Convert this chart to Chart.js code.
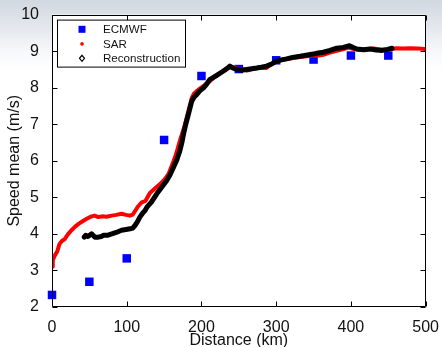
<!DOCTYPE html>
<html>
<head>
<meta charset="utf-8">
<script src="https://cdn.jsdelivr.net/npm/chart.js@4/dist/chart.umd.min.js"></script>
<style>
  html, body { margin: 0; padding: 0; }
  body { width: 442px; height: 347px; overflow: hidden;
         background: linear-gradient(#d2d8e1 0px, #e4e8ee 28px, #f7f8fa 52px, #ffffff 70px); }
  canvas { display: block; }
</style>
</head>
<body>
<canvas id="c" width="442" height="347"></canvas>
<script>
// ---- data ----
const xTicks = [0, 100, 200, 300, 400, 500];
const yTicks = [2, 3, 4, 5, 6, 7, 8, 9, 10];
const seriesNames = ['ECMWF', 'SAR', 'Reconstruction'];

const ecmwfX = [0, 50, 100, 150, 200, 250, 300, 350, 400, 450];
const ecmwfY = [2.33, 2.69, 3.33, 6.57, 8.32, 8.51, 8.75, 8.77, 8.88, 8.88];

const sarX = [0, 1, 4, 7, 10, 13, 17, 21, 26, 31, 36, 42, 47, 53, 57, 62, 67, 73, 80, 86, 93, 99, 104, 108, 111, 115, 120, 125, 131, 138, 145, 151, 156, 160, 164.5, 168, 171, 175, 178, 182.5, 187, 190, 193.5, 198, 202.5, 207, 211.5, 216, 222, 228, 233, 236, 241, 245, 250, 256, 261, 267, 273, 278, 283, 287, 292, 300, 307, 315, 323, 332, 341, 350, 357, 363, 372, 381, 389, 396.5, 404, 412, 420, 430, 438, 447, 455, 461, 470, 479, 490, 499];
const sarY = [3.10, 3.28, 3.42, 3.52, 3.72, 3.80, 3.86, 3.98, 4.10, 4.20, 4.28, 4.36, 4.42, 4.48, 4.50, 4.46, 4.48, 4.47, 4.50, 4.52, 4.55, 4.52, 4.50, 4.53, 4.62, 4.75, 4.86, 4.90, 5.12, 5.25, 5.37, 5.50, 5.64, 5.85, 6.09, 6.32, 6.54, 6.80, 7.00, 7.36, 7.72, 7.84, 7.90, 7.98, 8.04, 8.12, 8.18, 8.27, 8.36, 8.45, 8.52, 8.56, 8.55, 8.56, 8.50, 8.50, 8.47, 8.50, 8.53, 8.56, 8.54, 8.54, 8.62, 8.72, 8.76, 8.79, 8.81, 8.84, 8.86, 8.88, 8.88, 8.90, 8.96, 9.01, 9.05, 9.10, 9.06, 9.03, 9.05, 9.07, 9.05, 9.04, 9.06, 9.08, 9.07, 9.08, 9.07, 9.06];

const recX = [43, 45, 48, 53, 57.5, 62, 66, 69, 74, 80, 86, 93, 99, 104.5, 108, 111, 114, 117.5, 121, 124.5, 127, 133, 140, 147, 153.5, 158, 162.5, 167, 171, 174, 176, 179, 182.5, 187, 190, 193.5, 198, 202.5, 207, 211, 216, 222, 229, 234, 238, 242, 247, 253, 260.5, 267, 274, 280, 287, 293, 300, 307, 314, 322, 332, 340, 349.5, 356, 363, 372, 381, 390, 398, 403, 408, 417, 426, 434, 442, 449, 455];
const recY = [3.91, 3.96, 3.93, 4.00, 3.91, 3.91, 3.93, 3.96, 3.96, 4.00, 4.04, 4.10, 4.12, 4.14, 4.16, 4.23, 4.32, 4.46, 4.56, 4.64, 4.73, 4.87, 5.09, 5.28, 5.46, 5.62, 5.82, 6.02, 6.27, 6.52, 6.73, 7.00, 7.27, 7.63, 7.74, 7.81, 7.92, 7.99, 8.10, 8.22, 8.28, 8.36, 8.45, 8.52, 8.59, 8.54, 8.50, 8.48, 8.50, 8.52, 8.54, 8.56, 8.59, 8.64, 8.72, 8.76, 8.79, 8.83, 8.86, 8.89, 8.92, 8.95, 8.97, 9.02, 9.08, 9.10, 9.15, 9.10, 9.06, 9.04, 9.06, 9.03, 9.02, 9.05, 9.08];

const toPts = (xs, ys) => xs.map((x, i) => ({ x: x, y: ys[i] }));

const FONT = '"Liberation Sans", Arial, Helvetica, sans-serif';
const INK = '#111111';

// white plot area + frame + inward ticks
const framePlugin = {
  id: 'frame',
  beforeDatasetsDraw(chart) {
    const a = chart.chartArea, ctx = chart.ctx;
    ctx.save();
    ctx.fillStyle = '#ffffff';
    ctx.fillRect(a.left, a.top, a.right - a.left, a.bottom - a.top);
    ctx.restore();
  },
  afterDraw(chart) {
    const a = chart.chartArea, ctx = chart.ctx;
    const xs = chart.scales.x, ys = chart.scales.y;
    const L = Math.round(a.left) + 0.5, R = Math.round(a.right) - 0.5;
    const T = Math.round(a.top) + 0.5, B = Math.round(a.bottom) - 0.5;
    ctx.save();
    ctx.strokeStyle = '#000';
    ctx.lineWidth = 1;
    ctx.beginPath();
    ctx.rect(L, T, R - L, B - T);
    const tl = 5;
    xTicks.forEach(v => {
      const px = Math.round(xs.getPixelForValue(v)) + 0.5;
      ctx.moveTo(px, B); ctx.lineTo(px, B - tl);
      ctx.moveTo(px, T); ctx.lineTo(px, T + tl);
    });
    yTicks.forEach(v => {
      const py = Math.round(ys.getPixelForValue(v)) + 0.5;
      ctx.moveTo(L, py); ctx.lineTo(L + tl, py);
      ctx.moveTo(R, py); ctx.lineTo(R - tl, py);
    });
    ctx.stroke();
    ctx.restore();
  }
};

// boxed legend inside the plot (upper left)
const legendPlugin = {
  id: 'boxLegend',
  afterDraw(chart) {
    const ctx = chart.ctx;
    const a = chart.chartArea;
    const bx = a.left + 5.5, by = a.top + 5.5, bw = 128, bh = 47;
    ctx.save();
    ctx.fillStyle = '#fff';
    ctx.fillRect(bx, by, bw, bh);
    ctx.strokeStyle = '#000';
    ctx.lineWidth = 1;
    ctx.strokeRect(bx, by, bw, bh);
    const mx = a.left + 30, tx = a.left + 51;
    const rows = [a.top + 14.7, a.top + 29.3, a.top + 43.7];
    // ECMWF square
    ctx.fillStyle = '#0000ff';
    ctx.fillRect(mx - 3.5, rows[0] - 3.5, 7, 7);
    // SAR dot
    ctx.fillStyle = '#ff0000';
    ctx.beginPath(); ctx.arc(mx, rows[1], 1.8, 0, Math.PI * 2); ctx.fill();
    // Reconstruction diamond
    ctx.strokeStyle = '#000'; ctx.lineWidth = 1.2;
    ctx.beginPath();
    ctx.moveTo(mx, rows[2] - 3); ctx.lineTo(mx + 2.5, rows[2]);
    ctx.lineTo(mx, rows[2] + 3); ctx.lineTo(mx - 2.5, rows[2]); ctx.closePath();
    ctx.stroke();
    ctx.fillStyle = INK;
    ctx.font = '11.6px ' + FONT;
    ctx.textBaseline = 'middle';
    ctx.textAlign = 'left';
    seriesNames.forEach((n, i) => ctx.fillText(n, tx, rows[i] + 0.5));
    ctx.restore();
  }
};

new Chart(document.getElementById('c'), {
  type: 'scatter',
  data: {
    datasets: [
      { label: seriesNames[2], data: toPts(recX, recY), showLine: true,
        borderColor: '#000000', backgroundColor: '#000000', borderWidth: 5,
        pointRadius: 0, tension: 0, borderJoinStyle: 'round', borderCapStyle: 'round' },
      { label: seriesNames[1], data: toPts(sarX, sarY), showLine: true,
        borderColor: '#ff0000', backgroundColor: '#ff0000', borderWidth: 4,
        pointRadius: 0, tension: 0, borderJoinStyle: 'round', borderCapStyle: 'round' },
      { label: seriesNames[0], data: toPts(ecmwfX, ecmwfY), showLine: false, clip: false,
        pointStyle: 'rect', pointRadius: 6, borderWidth: 0,
        backgroundColor: '#0000ff', borderColor: '#0000ff' }
    ]
  },
  options: {
    responsive: false,
    animation: false,
    events: [],
    layout: { padding: { left: 0, top: 13, right: 16, bottom: 0 } },
    plugins: { legend: { display: false }, tooltip: { enabled: false } },
    scales: {
      x: {
        type: 'linear', min: 0, max: 500,
        afterBuildTicks: s => { s.ticks = xTicks.map(v => ({ value: v })); },
        afterFit: s => { s.height = 40; },
        grid: { display: false },
        border: { display: false },
        ticks: { color: INK, padding: 3, font: { family: FONT, size: 16 }, maxRotation: 0 },
        title: { display: true, text: 'Distance (km)', color: INK,
                 font: { family: FONT, size: 16 }, padding: { top: 0, bottom: -3 } }
      },
      y: {
        type: 'linear', min: 2, max: 10,
        afterBuildTicks: s => { s.ticks = yTicks.map(v => ({ value: v })); },
        afterFit: s => { s.width = 52; },
        grid: { display: false },
        border: { display: false },
        ticks: { color: INK, padding: 5, font: { family: FONT, size: 16 } },
        title: { display: true, text: 'Speed mean (m/s)', color: INK,
                 font: { family: FONT, size: 16 }, padding: { top: 5, bottom: 0 } }
      }
    }
  },
  plugins: [framePlugin, legendPlugin]
});
</script>
</body>
</html>
